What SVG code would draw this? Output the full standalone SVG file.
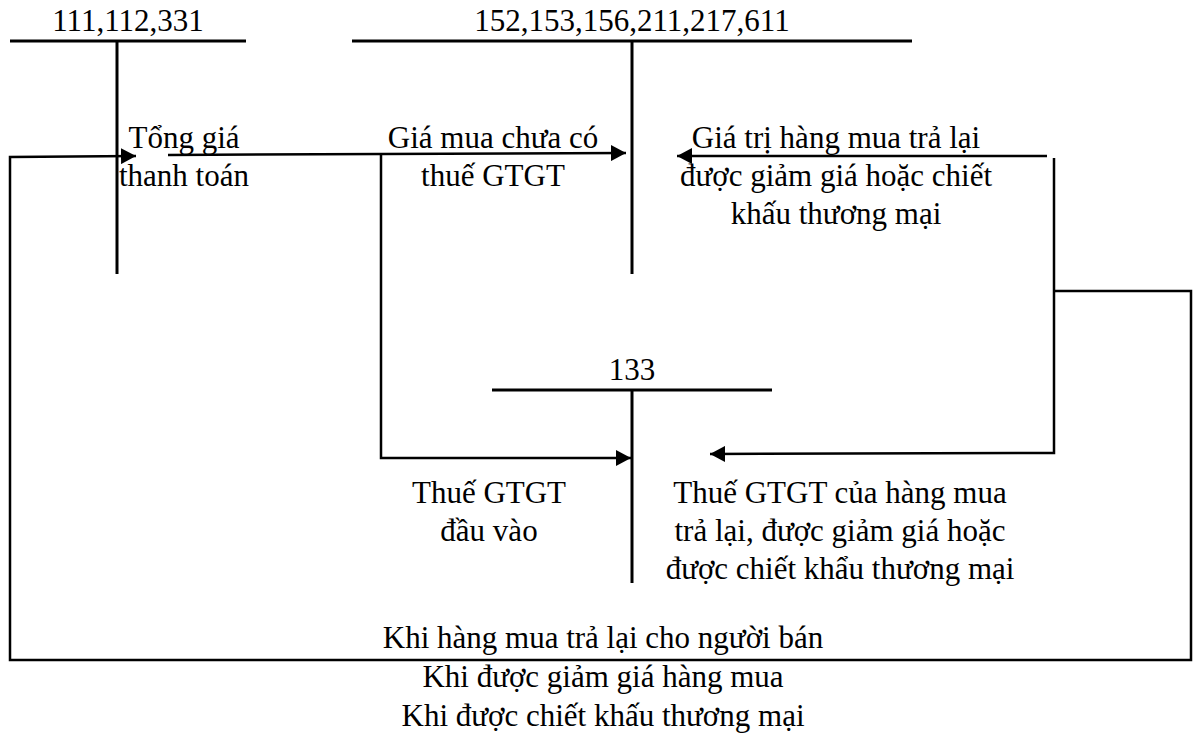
<svg xmlns="http://www.w3.org/2000/svg" width="1197" height="736" viewBox="0 0 1197 736">
  <style>
    .t { font-family: "Liberation Serif", "Times New Roman", serif; font-size: 31px; fill: #000; text-anchor: middle; }
    .acc { stroke: #000; stroke-width: 3; fill: none; }
    .ln { stroke: #000; stroke-width: 2.5; fill: none; }
  </style>
  <defs>
    <marker id="arr" markerWidth="16" markerHeight="16" refX="15" refY="8" orient="auto" markerUnits="userSpaceOnUse">
      <path d="M0,0 L15,8 L0,16 Z" fill="#000"/>
    </marker>
  </defs>
  <rect width="1197" height="736" fill="#fff"/>

  <!-- T-account 111,112,331 -->
  <g id="acc-111">
    <text class="t" x="128" y="31">111,112,331</text>
    <line class="acc" x1="10" y1="41" x2="246" y2="41"/>
    <line class="acc" x1="117" y1="41" x2="117" y2="274"/>
  </g>

  <!-- T-account 152,153,156,211,217,611 -->
  <g id="acc-152">
    <text class="t" x="632" y="31">152,153,156,211,217,611</text>
    <line class="acc" x1="352" y1="41" x2="912" y2="41"/>
    <line class="acc" x1="632" y1="41" x2="632" y2="274"/>
  </g>

  <!-- T-account 133 -->
  <g id="acc-133">
    <text class="t" x="632" y="380">133</text>
    <line class="acc" x1="492" y1="390" x2="772" y2="390"/>
    <line class="acc" x1="632" y1="390" x2="632" y2="583"/>
  </g>

  <!-- Connectors -->
  <g id="connectors">
    <!-- purchase price to inventory/asset accounts -->
    <line class="ln" x1="168" y1="155" x2="626" y2="153" marker-end="url(#arr)"/>
    <!-- input VAT branch -->
    <polyline class="ln" points="381,155 381,458 631,458" marker-end="url(#arr)"/>
    <!-- returns / discounts back to inventory -->
    <line class="ln" x1="1047" y1="156" x2="677" y2="156" marker-end="url(#arr)"/>
    <!-- VAT on returns -->
    <polyline class="ln" points="1054,158 1054,453 710,454" marker-end="url(#arr)"/>
    <!-- outer loop back to payment accounts -->
    <polyline class="ln" points="1054,291 1191,291 1191,660 10,660 10,157 136,156" marker-end="url(#arr)"/>
  </g>

  <!-- Labels -->
  <g id="labels">
    <text class="t" x="184" y="148">Tổng giá</text>
    <text class="t" x="184" y="186">thanh toán</text>

    <text class="t" x="493" y="148">Giá mua chưa có</text>
    <text class="t" x="493" y="186">thuế GTGT</text>

    <text class="t" x="836" y="148">Giá trị hàng mua trả lại</text>
    <text class="t" x="836" y="186">được giảm giá hoặc chiết</text>
    <text class="t" x="836" y="224">khấu thương mại</text>

    <text class="t" x="489" y="503">Thuế GTGT</text>
    <text class="t" x="489" y="541">đầu vào</text>

    <text class="t" x="840" y="503">Thuế GTGT của hàng mua</text>
    <text class="t" x="840" y="541">trả lại, được giảm giá hoặc</text>
    <text class="t" x="840" y="579">được chiết khẩu thương mại</text>

    <text class="t" x="603" y="648">Khi hàng mua trả lại cho người bán</text>
    <text class="t" x="603" y="687">Khi được giảm giá hàng mua</text>
    <text class="t" x="603" y="726">Khi được chiết khấu thương mại</text>
  </g>
</svg>
